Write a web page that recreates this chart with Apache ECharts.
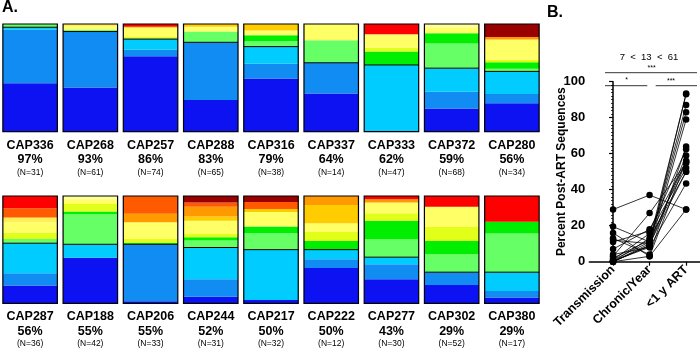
<!DOCTYPE html>
<html>
<head>
<meta charset="utf-8">
<script src="https://cdn.jsdelivr.net/npm/echarts@6/dist/echarts.min.js"></script>
<style>
  html, body { margin: 0; padding: 0; background: #fff; }
  #chart { width: 700px; height: 349px; }
</style>
</head>
<body>
<div id="chart"></div>
<script>
// Panel A, top row
const row1Names = ['CAP336', 'CAP268', 'CAP257', 'CAP288', 'CAP316', 'CAP337', 'CAP333', 'CAP372', 'CAP280'];
const row1Pct = [97, 93, 86, 83, 79, 64, 62, 59, 56];
const row1N = [31, 61, 74, 65, 38, 14, 47, 68, 34];
// lineage blocks, bottom to top: [lineage, percent of sequences]
const row1Segments = [
  [['db', 45], ['mb', 50], ['cy', 2], ['lg', 3]],
  [['db', 41], ['mb', 52], ['lg', 2], ['ly', 3], ['yl', 2]],
  [['db', 70], ['mb', 6], ['cy', 10], ['yg', 2], ['ly', 8.5], ['gd', 1], ['rd', 2.5]],
  [['db', 29.5], ['mb', 53.5], ['lg', 10], ['ly', 4.5], ['gd', 2.5]],
  [['db', 49.5], ['mb', 13.5], ['cy', 16], ['lg', 5], ['gr', 5.5], ['ly', 4.5], ['gd', 6]],
  [['db', 35.5], ['mb', 28.5], ['lg', 21], ['ly', 15]],
  [['cy', 62], ['gr', 12.5], ['yg', 3.5], ['ly', 12.5], ['rd', 9.5]],
  [['db', 21.5], ['mb', 15.5], ['cy', 22], ['lg', 23], ['gr', 9.5], ['ly', 5.5], ['pl', 3]],
  [['db', 26.5], ['mb', 8.5], ['cy', 21], ['lg', 2.5], ['gr', 6], ['yg', 2.5], ['ly', 18.5], ['or', 2.5], ['dr', 12]]
];

// Panel A, bottom row
const row2Names = ['CAP287', 'CAP188', 'CAP206', 'CAP244', 'CAP217', 'CAP222', 'CAP277', 'CAP302', 'CAP380'];
const row2Pct = [56, 55, 55, 52, 50, 50, 43, 29, 29];
const row2N = [36, 42, 33, 31, 32, 12, 30, 52, 17];
const row2Segments = [
  [['db', 16.5], ['mb', 11.5], ['cy', 28], ['lg', 4], ['yg', 6], ['ly', 9.5], ['yl', 4.5], ['do', 8.5], ['rd', 11.5]],
  [['db', 42.5], ['cy', 12.5], ['lg', 28], ['gr', 2.5], ['yg', 7], ['ly', 4.5], ['pl', 3]],
  [['db', 2], ['mb', 53], ['gr', 1.5], ['yg', 3.5], ['ly', 15.5], ['or', 8], ['do', 16.5]],
  [['db', 6], ['mb', 16.5], ['cy', 29.5], ['lg', 6.5], ['gr', 3], ['yg', 3], ['ly', 12.5], ['gd', 4], ['or', 9], ['do', 4], ['dr', 6]],
  [['db', 3], ['cy', 47], ['lg', 15.5], ['gr', 6], ['ly', 13.5], ['gd', 3], ['do', 6.5], ['dr', 5.5]],
  [['db', 33], ['mb', 8], ['cy', 9], ['gr', 8], ['yg', 8.5], ['ly', 8], ['gd', 17], ['or', 8.5]],
  [['db', 22.5], ['mb', 14], ['cy', 6.5], ['lg', 17], ['gr', 17], ['yg', 7], ['ly', 10], ['or', 3], ['rd', 3]],
  [['db', 17], ['mb', 12], ['lg', 17], ['gr', 12], ['yg', 13], ['ly', 19], ['rd', 10]],
  [['db', 5.5], ['mb', 6], ['cy', 17.5], ['lg', 36], ['gr', 11], ['rd', 24]]
];

// Panel B, one entry per participant
const groupNames = ['Transmission', 'Chronic/Year', '<1 y ART'];
const transVals = [0, 2, 1, 0, 4, 13, 11, 0, 16, 29, 19.5, 7, 3, 1, 0, 12, 0.5, 0];
const chronicVals = [9, 12, 11, 10, 8, 4, 17, 9, 3, 37, 11, 18, 27, 15.7, 13, 10, 8, 3];
const artVals = [93.5, 93, 87, 83, 79, 64, 62.5, 59, 56, 29, 56, 55, 55, 52, 50, 50, 43.5, 29];
const meanLabel = '7  <  13  <  61';

const lineageColors = {
  db: '#0c12f2', mb: '#118cf2', cy: '#00ccff', lg: '#66ff66', gr: '#00ee00',
  yg: '#e2ff1a', ly: '#ffff66', pl: '#ffff99', yl: '#ffee55', gd: '#ffcc00',
  or: '#ff9900', do: '#ff5a00', rd: '#ff0000', dr: '#990000'
};

const FONT = '"Liberation Sans", Arial, sans-serif';
const BAR_W = 54.5;

function stackSeries(segments, idx) {
  const layers = Math.max(...segments.map(s => s.length));
  const out = [];
  for (let k = 0; k < layers; k++) {
    out.push({
      type: 'bar', xAxisIndex: idx, yAxisIndex: idx, stack: 'row' + idx,
      barWidth: BAR_W, silent: true,
      data: segments.map(bar => bar[k]
        ? { value: bar[k][1], itemStyle: { color: lineageColors[bar[k][0]] } }
        : '-')
    });
  }
  return out;
}

// box around each bar plus the black cut line at the post-ART percentage
function outlineSeries(pcts, idx) {
  return {
    type: 'custom', xAxisIndex: idx, yAxisIndex: idx, silent: true, z: 5,
    data: pcts.map((p, i) => [i, p]),
    renderItem: (params, api) => {
      const i = api.value(0);
      const base = api.coord([i, 0]);
      const top = api.coord([i, 100]);
      const cut = api.coord([i, api.value(1)]);
      const x0 = base[0] - BAR_W / 2;
      return {
        type: 'group',
        children: [
          { type: 'rect', shape: { x: x0, y: top[1], width: BAR_W, height: base[1] - top[1] },
            style: { fill: null, stroke: '#000', lineWidth: 1.2 } },
          { type: 'line', shape: { x1: x0, y1: cut[1], x2: x0 + BAR_W, y2: cut[1] },
            style: { stroke: '#000', lineWidth: 1 } }
        ]
      };
    }
  };
}

function rowAxis(names, pcts, ns, idx) {
  return {
    type: 'category', gridIndex: idx, data: names,
    axisLine: { show: false }, axisTick: { show: false },
    axisLabel: {
      interval: 0, margin: 6, color: '#000',
      formatter: (v, i) => `{n|${v}}\n{p|${pcts[i]}%}\n{c|(N=${ns[i]})}`,
      rich: {
        n: { fontFamily: FONT, fontWeight: 'bold', fontSize: 12.5, lineHeight: 15, color: '#000' },
        p: { fontFamily: FONT, fontWeight: 'bold', fontSize: 12.5, lineHeight: 14.5, color: '#000' },
        c: { fontFamily: FONT, fontSize: 8.5, lineHeight: 10.5, color: '#000' }
      }
    }
  };
}

const hiddenY = idx => ({ type: 'value', gridIndex: idx, min: 0, max: 100, show: false });

const pairSeries = transVals.map((t, i) => ({
  type: 'line', xAxisIndex: 2, yAxisIndex: 2, silent: true,
  data: [[0, t], [1, chronicVals[i]], [2, artVals[i]]],
  symbol: 'circle', symbolSize: 6.5,
  itemStyle: { color: '#000' },
  lineStyle: { color: '#000', width: 0.8 }
}));

const chart = echarts.init(document.getElementById('chart'));
chart.setOption({
  animation: false,
  backgroundColor: '#fff',
  textStyle: { fontFamily: FONT },
  grid: [
    { left: -2.5, top: 24, width: 544.5, height: 107.7 },
    { left: -2.5, top: 196, width: 544.5, height: 107.3 },
    { left: 589.3, right: 0, top: 81.7, height: 180 }
  ],
  xAxis: [
    rowAxis(row1Names, row1Pct, row1N, 0),
    rowAxis(row2Names, row2Pct, row2N, 1),
    {
      type: 'value', gridIndex: 2, min: -0.65, max: 2.38,
      axisLine: { lineStyle: { color: '#000', width: 1.5 } },
      axisTick: { customValues: [0, 1, 2], length: 4, lineStyle: { color: '#000', width: 1.2 } },
      axisLabel: {
        customValues: [0, 1, 2], rotate: 45, margin: 6, color: '#000',
        fontFamily: FONT, fontWeight: 'bold', fontSize: 12.5,
        formatter: v => groupNames[v]
      },
      splitLine: { show: false }
    }
  ],
  yAxis: [
    hiddenY(0), hiddenY(1),
    {
      type: 'value', gridIndex: 2, min: 0, max: 100, interval: 20,
      name: 'Percent Post-ART Sequences', nameLocation: 'middle', nameGap: 22,
      nameMoveOverlap: false,
      nameTextStyle: { fontFamily: FONT, fontWeight: 'bold', fontSize: 12, color: '#000' },
      axisLine: { show: true, lineStyle: { color: '#000', width: 1.5 } },
      axisTick: { show: true, length: 4, lineStyle: { color: '#000', width: 1.2 } },
      minorTick: { show: true, splitNumber: 10, length: 2, lineStyle: { color: '#000', width: 0.8 } },
      axisLabel: { margin: 4, color: '#000', fontFamily: FONT, fontWeight: 'bold', fontSize: 13 },
      splitLine: { show: false }
    }
  ],
  graphic: [
    { type: 'text', left: 2, top: 0, style: { text: 'A.', font: 'bold 16px ' + FONT, fill: '#000' } },
    { type: 'text', left: 547, top: 5, style: { text: 'B.', font: 'bold 16px ' + FONT, fill: '#000' } },
    { type: 'text', x: 649, y: 57, style: { text: meanLabel, font: '9.5px ' + FONT, fill: '#000', align: 'center', verticalAlign: 'middle' } },
    { type: 'text', x: 651.7, y: 68, style: { text: '***', font: '7px ' + FONT, fill: '#000', align: 'center', verticalAlign: 'middle' } },
    { type: 'line', shape: { x1: 605, y1: 72.7, x2: 697, y2: 72.7 }, style: { stroke: '#000', lineWidth: 0.8 } },
    { type: 'text', x: 626.7, y: 80, style: { text: '*', font: '7px ' + FONT, fill: '#000', align: 'center', verticalAlign: 'middle' } },
    { type: 'line', shape: { x1: 605, y1: 85.7, x2: 647.3, y2: 85.7 }, style: { stroke: '#000', lineWidth: 0.8 } },
    { type: 'text', x: 671, y: 81.5, style: { text: '***', font: '7px ' + FONT, fill: '#000', align: 'center', verticalAlign: 'middle' } },
    { type: 'line', shape: { x1: 655.7, y1: 85.7, x2: 697, y2: 85.7 }, style: { stroke: '#000', lineWidth: 0.8 } }
  ],
  series: [
    ...stackSeries(row1Segments, 0),
    outlineSeries(row1Pct, 0),
    ...stackSeries(row2Segments, 1),
    outlineSeries(row2Pct, 1),
    ...pairSeries
  ]
});
</script>
</body>
</html>
